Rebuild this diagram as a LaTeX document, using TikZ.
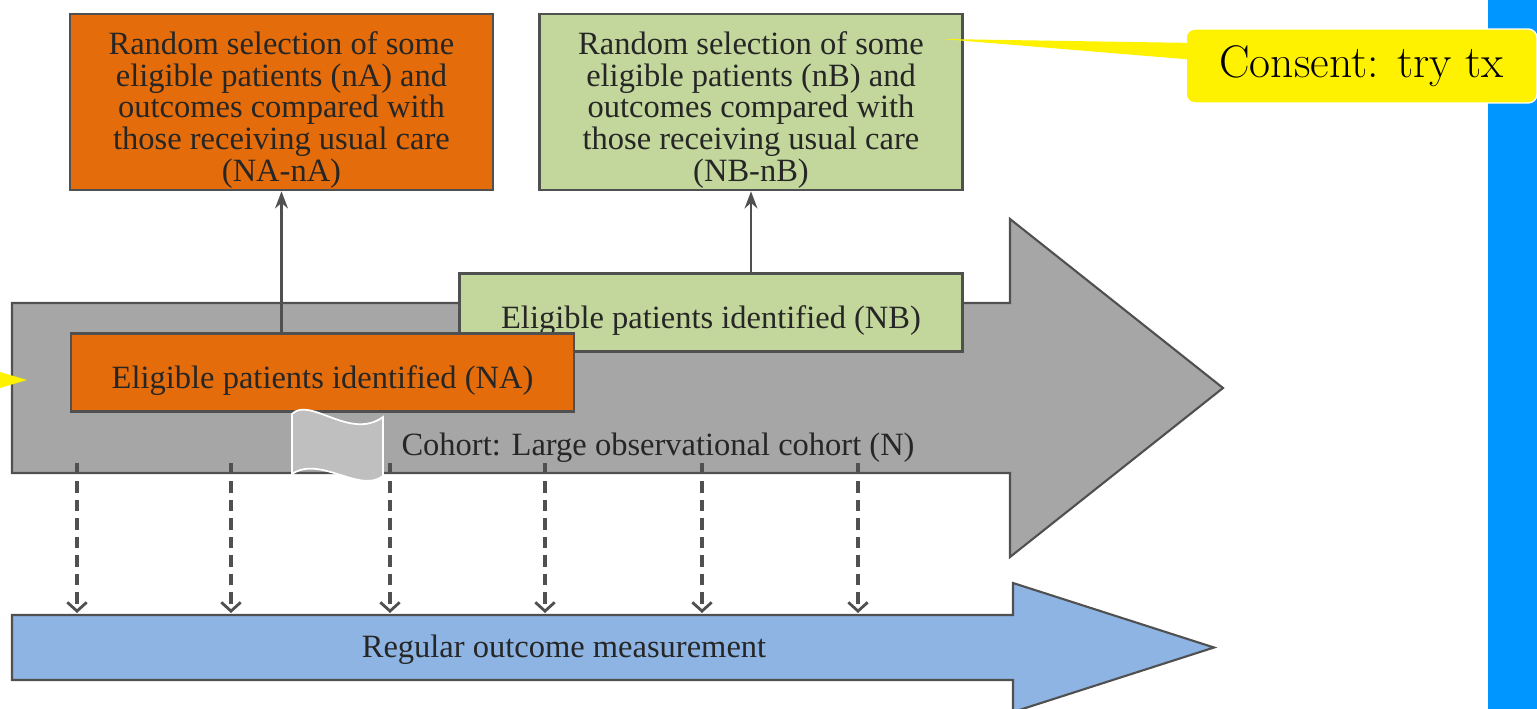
\documentclass[tikz,border=0pt]{standalone}
\usepackage{fontspec}
\newfontfamily\diagfont{Liberation Serif}
\usetikzlibrary{arrows.meta}
\definecolor{boxorange}{HTML}{E46C0A}
\definecolor{boxgreen}{HTML}{C3D69B}
\definecolor{cohortgray}{HTML}{A6A6A6}
\definecolor{measblue}{HTML}{8DB4E2}
\definecolor{sidebarblue}{HTML}{0096FF}
\definecolor{edgegray}{HTML}{505050}
\newcommand{\boxstrut}{\rule{0pt}{22pt}}
\begin{document}
\begin{tikzpicture}[x=0.02cm, y=-0.02cm, >=Stealth,
    box/.style={draw=edgegray, line width=1.5pt, align=center, inner sep=0pt,
        font=\diagfont\fontsize{18.5}{18}\selectfont, text=black!85,
        execute at begin node={\rule{0pt}{22pt}}},
    selbox/.style={box, minimum width=8.46cm, minimum height=3.52cm},
    idbox/.style={box, minimum width=10.06cm, minimum height=1.56cm},
    bigarrow/.style={draw=edgegray, line width=1.2pt, line join=miter},
    flowlabel/.style={font=\diagfont\fontsize{18.5}{18}\selectfont, text=black!85},
    followup/.style={draw=edgegray, line width=2pt, dash pattern=on 6.5pt off 4pt,
        -{Straight Barb[length=5pt, width=11pt, line width=1.6pt]}},
    callout/.style={fill=yellow, draw=white, line width=0.8pt, rounded corners=5pt}]
    \useasboundingbox (0,0) rectangle (1537,709);
    \fill[white] (0,0) rectangle (1537,709);
    \fill[sidebarblue] (1488,0) rectangle (1537,709);

    \draw[bigarrow, fill=cohortgray] (12,303) -- (1010,303) -- (1010,219) -- (1223,388)
        -- (1010,557) -- (1010,473) -- (12,473) -- cycle;
    \draw[bigarrow, fill=measblue] (12,615) -- (1013,615) -- (1013,583) -- (1214,647.5)
        -- (1013,712) -- (1013,680) -- (12,680) -- cycle;

    \node[flowlabel] (cohort) at (658,448) {Cohort: Large observational cohort (N)};
    \node[flowlabel] (measure) at (564,650) {Regular outcome measurement};

    \node[idbox, fill=boxgreen] (idB) at (711,312.5) {Eligible patients identified (NB)};
    \node[idbox, fill=boxorange] (idA) at (322.5,372.5) {Eligible patients identified (NA)};

    \node[selbox, fill=boxorange] (selA) at (281.5,102) {\boxstrut Random selection of some\\eligible patients (nA) and\\outcomes compared with\\those receiving usual care\\(NA-nA)};
    \node[selbox, fill=boxgreen] (selB) at (751,102) {\boxstrut Random selection of some\\eligible patients (nB) and\\outcomes compared with\\those receiving usual care\\(NB-nB)};

    \draw[->, edgegray, line width=1.5pt] (idA.north -| selA.south) -- (selA.south);
    \draw[->, edgegray, line width=1.5pt] (idB.north -| selB.south) -- (selB.south);

    \foreach \x [count=\i] in {77,231,390,545,702,858} {
        \coordinate (obs\i) at (\x,463);
        \coordinate (meas\i) at (\x,613);
        \draw[followup] (obs\i) -- (meas\i);
    }

    \draw[white, fill=gray!50, line width=1pt] (292,414) .. controls (310,396) and (350,441) .. (383,417)
        -- (383,476) .. controls (360,494) and (320,455) .. (292,474) -- cycle;

    \fill[yellow] (0,372) -- (27,380) -- (0,388) -- cycle;

    \node[callout, minimum width=7.02cm, minimum height=1.48cm,
        font=\fontsize{26}{30}\selectfont] (consent) at (1361.5,66) {Consent: try tx};
    \coordinate (consentTip) at (942,39);
    \fill[yellow] ([xshift=0.2cm, yshift=0.46cm]consent.west) -- (consentTip)
        -- ([xshift=0.2cm, yshift=0.12cm]consent.west) -- cycle;
\end{tikzpicture}
\end{document}
